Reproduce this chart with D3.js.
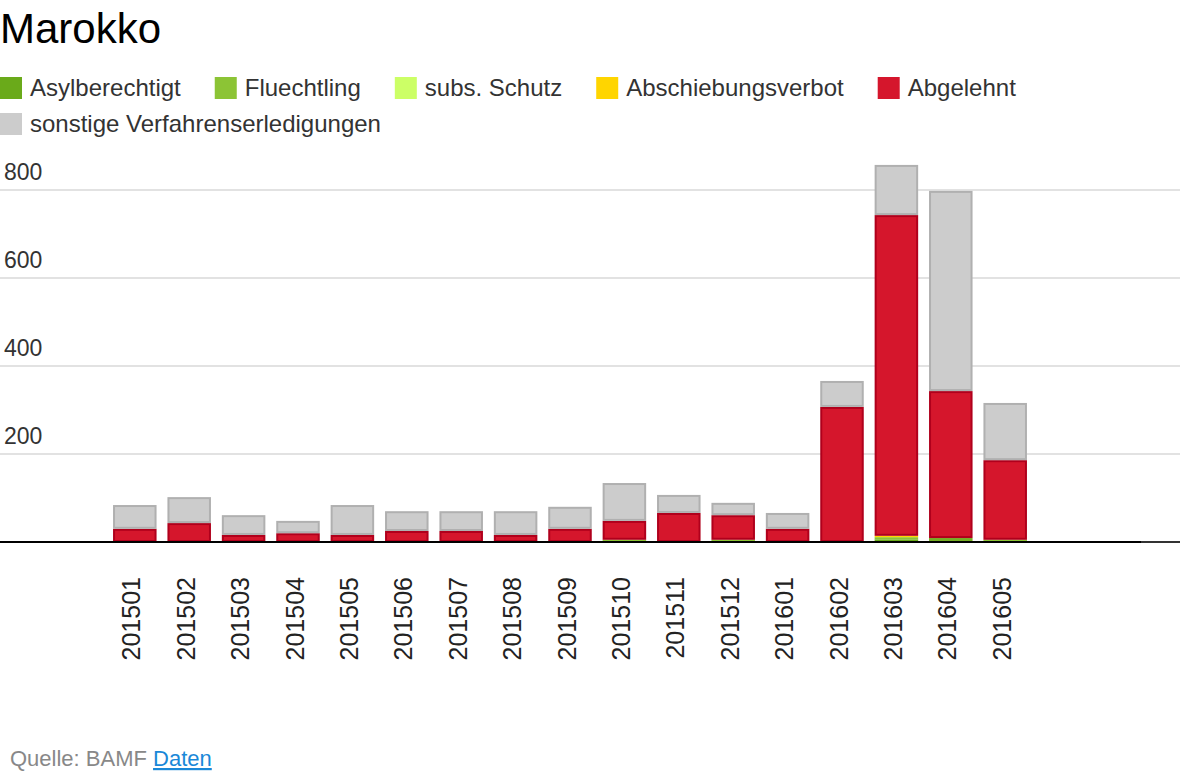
<!doctype html>
<html>
<head>
<meta charset="utf-8">
<style>
  body { margin: 0; background: #fff; }
  svg { display: block; font-family: "Liberation Sans", Arial, sans-serif; }
</style>
</head>
<body>
  <svg id="chart"></svg>
<script src="https://d3js.org/d3.v7.min.js"></script>
<script>
  // monthly decisions, Marokko (BAMF)
  const months = ["201501", "201502", "201503", "201504", "201505", "201506", "201507", "201508", "201509",
                  "201510", "201511", "201512", "201601", "201602", "201603", "201604", "201605"];
  const slots = 19; // chart reserves two empty months at the end

  const seriesNames = ["Asylberechtigt", "Fluechtling", "subs. Schutz", "Abschiebungsverbot", "Abgelehnt",
                       "sonstige Verfahrenserledigungen"];
  const asyl      = [0, 0, 0, 0, 0, 0, 0, 0, 0, 0, 0, 0, 0, 0, 6, 1, 0];
  const fluecht   = [0, 0, 0, 0, 0, 0, 0, 0, 0, 5, 0, 5, 0, 0, 5, 8, 5];
  const subs      = [0, 0, 0, 0, 0, 0, 0, 0, 0, 0, 0, 0, 0, 0, 0, 0, 0];
  const abschieb  = [0, 0, 0, 0, 0, 0, 0, 0, 0, 0, 0, 0, 0, 0, 3, 0, 0];
  const abgelehnt = [30, 43, 16, 20, 16, 25, 25, 16, 30, 43, 66, 56, 30, 307, 729, 334, 181];
  const sonstige  = [54, 59, 45, 28, 68, 45, 45, 54, 50, 86, 41, 28, 36, 59, 114, 455, 130];
  const yTicks = [200, 400, 600, 800];

  const fills   = ["#6aaa1a", "#8cc435", "#ccff66", "#ffd500", "#d5162c", "#cccccc"];
  const strokes = ["#559010", "#76ad24", "#aee04c", "#e8b800", "#b0001c", "#b0b0b0"];

  const width = 1180, height = 782;
  const svg = d3.select("#chart").attr("width", width).attr("height", height);

  const rows = months.map((m, i) => ({
    month: m, i: i,
    values: [asyl[i], fluecht[i], subs[i], abschieb[i], abgelehnt[i], sonstige[i]]
  }));

  const x = d3.scaleBand().domain(d3.range(slots)).range([107.6, 1141.2])
    .paddingInner(0.2).paddingOuter(0.1);
  const y = d3.scaleLinear().domain([0, 800]).range([542, 190]);

  // title
  svg.append("text").attr("x", 0).attr("y", 43)
    .attr("font-size", 42).attr("fill", "#000").text("Marokko");

  // legend, wraps like inline html
  const legend = svg.append("g");
  let lx = 0, ly = 77;
  seriesNames.forEach((name, k) => {
    const g = legend.append("g");
    g.append("rect").attr("width", 22).attr("height", 22).attr("fill", fills[k]);
    const t = g.append("text").attr("x", 30).attr("y", 19).attr("font-size", 24)
      .attr("fill", "#333").text(name);
    const w = 30 + t.node().getComputedTextLength();
    if (lx + w > width && lx > 0) { lx = 0; ly += 36; }
    g.attr("transform", `translate(${lx},${ly})`);
    lx += w + 34;
  });

  // grid
  svg.append("g").selectAll("line").data(yTicks).join("line")
    .attr("x1", 0).attr("x2", width)
    .attr("y1", d => y(d)).attr("y2", d => y(d))
    .attr("stroke", "#d9d9d9").attr("stroke-width", 1.5);
  svg.append("g").selectAll("text").data(yTicks).join("text")
    .attr("x", 4).attr("y", d => y(d) - 10)
    .attr("font-size", 23).attr("fill", "#333").text(d => d);

  // bars
  const bars = svg.append("g").selectAll("g").data(rows).join("g");
  bars.each(function (r) {
    let base = 0;
    const g = d3.select(this);
    r.values.forEach((v, k) => {
      if (v <= 0) { return; }
      const y0 = y(base), y1 = y(base + v);
      base += v;
      const h = y0 - y1;
      if (h < 3) {
        g.append("rect").attr("x", x(r.i)).attr("y", y1).attr("width", x.bandwidth())
          .attr("height", h).attr("fill", k < 4 ? fills[k] : strokes[k]);
      } else {
        g.append("rect").attr("x", x(r.i) + 1).attr("y", y1 + 1)
          .attr("width", x.bandwidth() - 2).attr("height", h - 2)
          .attr("fill", fills[k]).attr("stroke", strokes[k]).attr("stroke-width", 2);
      }
    });
  });

  // baseline
  svg.append("line").attr("x1", 0).attr("x2", 1141).attr("y1", y(0)).attr("y2", y(0))
    .attr("stroke", "#000").attr("stroke-width", 2);
  svg.append("line").attr("x1", 1141).attr("x2", width).attr("y1", y(0)).attr("y2", y(0))
    .attr("stroke", "#333").attr("stroke-width", 2);

  // month labels
  svg.append("g").selectAll("text").data(rows).join("text")
    .attr("transform", d => `translate(${x(d.i) + x.bandwidth() / 2},577) rotate(-90)`)
    .attr("text-anchor", "end").attr("dy", "0.22em")
    .attr("font-size", 25).attr("fill", "#222").text(d => d.month);

  // source
  const src = svg.append("text").attr("x", 10).attr("y", 766).attr("font-size", 22);
  src.append("tspan").attr("fill", "#888").text("Quelle: BAMF ");
  src.append("tspan").attr("fill", "#1a88d8").attr("text-decoration", "underline").text("Daten");
</script>
</body>
</html>
